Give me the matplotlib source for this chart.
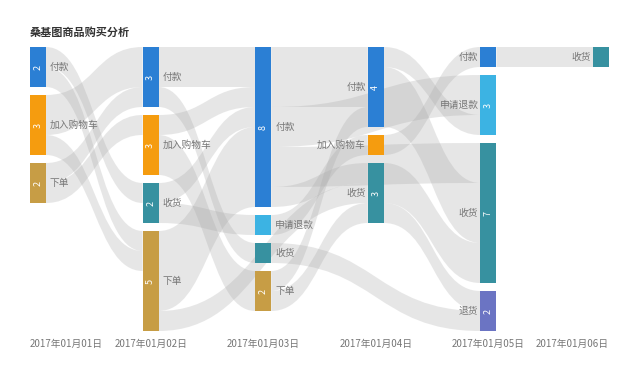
import numpy as np
import matplotlib.pyplot as plt
from matplotlib.path import Path
from matplotlib.patches import PathPatch, Rectangle

plt.rcParams['font.family'] = ['Noto Sans CJK SC', 'DejaVu Sans']

title = '桑基图商品购买分析'
dates = ['2017年01月01日', '2017年01月02日', '2017年01月03日',
         '2017年01月04日', '2017年01月05日', '2017年01月06日']

# nodes per day column: (name, value)
col_nodes = [
    [('付款', 2), ('加入购物车', 3), ('下单', 2)],
    [('付款', 3), ('加入购物车', 3), ('收货', 2), ('下单', 5)],
    [('付款', 8), ('申请退款', 1), ('收货', 1), ('下单', 2)],
    [('付款', 4), ('加入购物车', 1), ('收货', 3)],
    [('付款', 1), ('申请退款', 3), ('收货', 7), ('退货', 2)],
    [('收货', 1)],
]

# links: ((col, name), (col, name), value)
links = [
    ((0, '付款'), (1, '收货'), 1),
    ((0, '付款'), (1, '下单'), 1),
    ((0, '加入购物车'), (1, '付款'), 2),
    ((0, '加入购物车'), (1, '下单'), 1),
    ((0, '下单'), (1, '付款'), 1),
    ((0, '下单'), (1, '加入购物车'), 1),
    ((1, '付款'), (2, '付款'), 2),
    ((1, '付款'), (2, '收货'), 1),
    ((1, '加入购物车'), (2, '付款'), 1),
    ((1, '加入购物车'), (2, '下单'), 2),
    ((1, '收货'), (2, '付款'), 1),
    ((1, '收货'), (2, '申请退款'), 1),
    ((1, '下单'), (2, '付款'), 4),
    ((1, '下单'), (3, '收货'), 1),
    ((2, '付款'), (3, '付款'), 3),
    ((2, '付款'), (3, '收货'), 1),
    ((2, '付款'), (4, '申请退款'), 2),
    ((2, '付款'), (4, '收货'), 2),
    ((2, '申请退款'), (3, '加入购物车'), 1),
    ((2, '收货'), (4, '退货'), 1),
    ((2, '下单'), (3, '付款'), 1),
    ((2, '下单'), (3, '收货'), 1),
    ((3, '付款'), (4, '申请退款'), 1),
    ((3, '付款'), (4, '收货'), 3),
    ((3, '加入购物车'), (4, '付款'), 1),
    ((3, '收货'), (4, '收货'), 2),
    ((3, '收货'), (4, '退货'), 1),
    ((4, '付款'), (5, '收货'), 1),
]

colors = {'付款': '#2b7fd4', '加入购物车': '#f59c0f', '下单': '#c79d45',
          '收货': '#3791a0', '申请退款': '#3cb3e3', '退货': '#6b74c3'}

fig = plt.figure(figsize=(6.4, 3.66), dpi=100)
ax = fig.add_axes([0, 0, 1, 1])
ax.set_xlim(0, 640)
ax.set_ylim(366, 0)
ax.axis('off')

x0, dx, nw = 30, 112.6, 16
top, scale, gap = 47, 20, 8

# node layout
nodes = {}
for c, col in enumerate(col_nodes):
    y = top
    for name, v in col:
        nodes[(c, name)] = [x0 + c * dx, y, v * scale]
        y += v * scale + gap

# link offsets at each node
out_off = {k: 0 for k in nodes}
in_off = {k: 0 for k in nodes}
order_out = sorted(links, key=lambda l: (nodes[l[0]][1], nodes[l[1]][1]))
src_pos = {}
for l in order_out:
    s = l[0]
    src_pos[id(l)] = nodes[s][1] + out_off[s]
    out_off[s] += l[2] * scale
order_in = sorted(links, key=lambda l: (nodes[l[1]][1], nodes[l[0]][1]))
tgt_pos = {}
for l in order_in:
    t = l[1]
    tgt_pos[id(l)] = nodes[t][1] + in_off[t]
    in_off[t] += l[2] * scale

for l in links:
    s, t, v = l
    h = v * scale
    xa = nodes[s][0] + nw
    xb = nodes[t][0]
    ya = src_pos[id(l)]
    yb = tgt_pos[id(l)]
    xm = (xa + xb) / 2
    verts = [(xa, ya), (xm, ya), (xm, yb), (xb, yb),
             (xb, yb + h), (xm, yb + h), (xm, ya + h), (xa, ya + h), (xa, ya)]
    codes = [Path.MOVETO, Path.CURVE4, Path.CURVE4, Path.CURVE4,
             Path.LINETO, Path.CURVE4, Path.CURVE4, Path.CURVE4, Path.CLOSEPOLY]
    ax.add_patch(PathPatch(Path(verts, codes), facecolor='#a8a8a8',
                           edgecolor='none', alpha=0.28, zorder=1))

for (c, name), (x, y, h) in nodes.items():
    ax.add_patch(Rectangle((x, y), nw, h, facecolor=colors[name],
                           edgecolor='none', zorder=2))
    v = h / scale
    if v > 1:
        ax.text(x + nw / 2, y + h / 2, f'{v:.0f}', rotation=90, color='white',
                fontsize=6.5, ha='center', va='center', zorder=3)
    if c < 3:
        ax.text(x + nw + 4, y + h / 2, name, color='#777777', fontsize=7,
                ha='left', va='center', zorder=3)
    else:
        ax.text(x - 2, y + h / 2, name, color='#777777', fontsize=7,
                ha='right', va='center', zorder=3)

for c, d in enumerate(dates):
    x = x0 + c * dx
    if c == 0:
        ax.text(x, 344, d, ha='left', va='center', color='#777777', fontsize=7)
    elif c == len(dates) - 1:
        ax.text(x + nw, 344, d, ha='right', va='center', color='#777777', fontsize=7)
    else:
        ax.text(x + nw / 2, 344, d, ha='center', va='center', color='#777777', fontsize=7)

ax.text(30, 32, title, ha='left', va='center', color='#333333',
        fontsize=8, fontweight='bold')

fig.savefig('out.png', dpi=100)
